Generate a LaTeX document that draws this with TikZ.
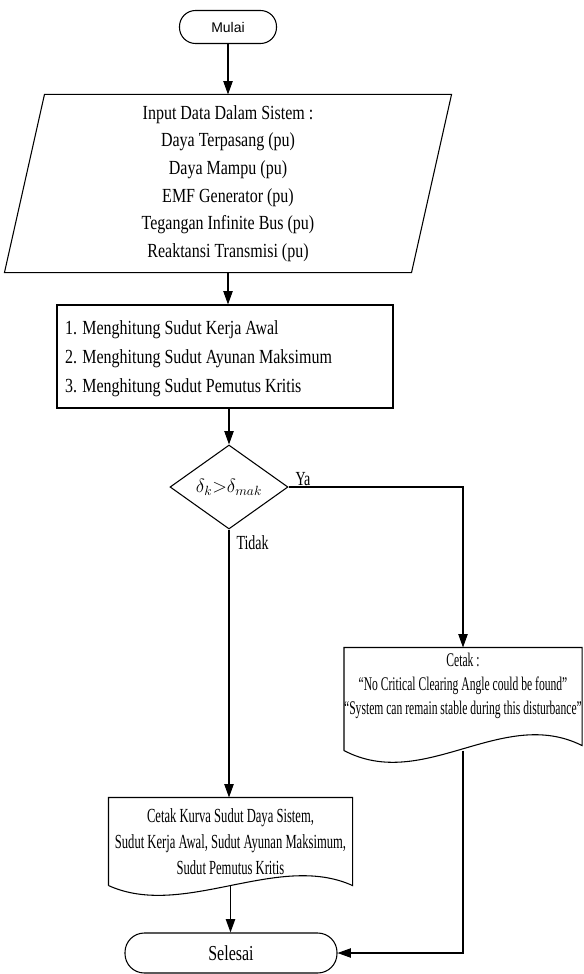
\documentclass[tikz,border=0pt]{standalone}
\usepackage{fontspec}
\setmainfont{Liberation Serif}[FakeStretch=0.8]
\newfontfamily\mulaifont{Liberation Sans}
\newfontfamily\condA{Liberation Serif}[FakeStretch=0.6,Ligatures=TeX]
\newfontfamily\condB{Liberation Serif}[FakeStretch=0.63,Ligatures=TeX]
\newfontfamily\condC{Liberation Serif}[FakeStretch=0.75,Ligatures=TeX]
\newfontfamily\condD{Liberation Serif}[FakeStretch=0.7,Ligatures=TeX]
\usetikzlibrary{arrows.meta,shapes.geometric,calc}
\begin{document}
\begin{tikzpicture}[x=0.75pt,y=-0.75pt,
  line width=0.8pt,
  >={Triangle[length=10pt,width=7pt]},
  flow/.style={draw=black, line width=0.8pt},
  arr/.style={flow,->},
  txt/.style={align=center, inner sep=0pt},
  lbl/.style={anchor=base west, inner sep=0pt, font=\condD\fontsize{15}{18}\selectfont}]
\useasboundingbox (0,0) rectangle (583,974);

% start
\node[flow, rounded corners=12pt, minimum width=97*0.75pt, minimum height=33*0.75pt,
      inner sep=0pt, font=\mulaifont\fontsize{10.5}{12}\selectfont] (start) at (228,27) {Mulai};

% input parallelogram
\node[txt, minimum width=406*0.75pt, minimum height=177*0.75pt,
      font=\fontsize{15}{20.7}\selectfont] (inp) at (228,183.5)
  {Input Data Dalam Sistem :\\ Daya Terpasang (pu)\\ Daya Mampu (pu)\\ EMF Generator (pu)\\ Tegangan Infinite Bus (pu)\\ Reaktansi Transmisi (pu)};
\draw[flow] ($(inp.north west)+(20,0)$) -- ($(inp.north east)+(20,0)$)
  -- ($(inp.south east)+(-20,0)$) -- ($(inp.south west)+(-20,0)$) -- cycle;

% process
\node[flow, minimum width=336*0.75pt, minimum height=103*0.75pt, inner sep=0pt] (proc) at (225,356.5) {};
\node[anchor=west, align=left, inner sep=0pt, font=\fontsize{15}{21.75}\selectfont] (proctxt)
  at ($(proc.west)+(8,2)$)
  {1. Menghitung Sudut Kerja Awal\\ 2. Menghitung Sudut Ayunan Maksimum\\ 3. Menghitung Sudut Pemutus Kritis};

% decision
\node[flow, diamond, aspect=1.4, inner sep=0pt, minimum width=118*0.75pt, minimum height=84*0.75pt,
      font=\fontsize{14}{16}\selectfont] (dia) at (229,487) {$\delta_k{>}\delta_{mak}$};

% document right (Cetak)
\node[txt, minimum width=237*0.75pt, minimum height=102*0.75pt] (c1) at (463,699) {};
\node[txt, font=\condA\fontsize{14.5}{18}\selectfont] (c1txt) at (463,686)
  {Cetak :\\ “No Critical Clearing Angle could be found”\\ “System can remain stable during this disturbance”};
\draw[flow] (c1.south west) -- (c1.north west) -- (c1.north east) -- ($(c1.south east)+(0,-5)$)
  .. controls ($(c1.south east)+(-80,-45)$) and ($(c1.south west)+(80,42)$) .. (c1.south west);

% document left
\node[txt, minimum width=243*0.75pt, minimum height=87*0.75pt,
      font=\condB\fontsize{15}{19.5}\selectfont] (d2) at (230.5,841.5)
  {Cetak Kurva Sudut Daya Sistem,\\ Sudut Kerja Awal, Sudut Ayunan Maksimum,\\ Sudut Pemutus Kritis};
\draw[flow] (d2.south west) -- (d2.north west) -- (d2.north east) -- (d2.south east)
  .. controls ($(d2.south east)+(-75,-34)$) and ($(d2.south west)+(75,34)$) .. (d2.south west);

% end
\node[flow, rounded corners=14.5pt, minimum width=212*0.75pt, minimum height=40*0.75pt,
      inner sep=0pt, font=\condC\fontsize{16}{18}\selectfont] (sel) at (231,953) {Selesai};

% connectors
\draw[arr] (start) -- (inp.north);
\draw[arr] (inp.south) -- (inp.south |- proc.north);
\draw[arr] (dia.north |- proc.south) -- (dia.north);
\draw[arr] (dia.east) -| (c1.north);
\draw[arr] (dia.south) -- (dia.south |- d2.north);
\draw[arr] (d2.south) -- (d2.south |- sel.north);
\draw[arr] (c1.south) |- (sel.east);

% labels
\node[lbl] (ya) at (295,485) {Ya};
\node[lbl] (tidak) at (236,549) {Tidak};
\end{tikzpicture}
\end{document}
